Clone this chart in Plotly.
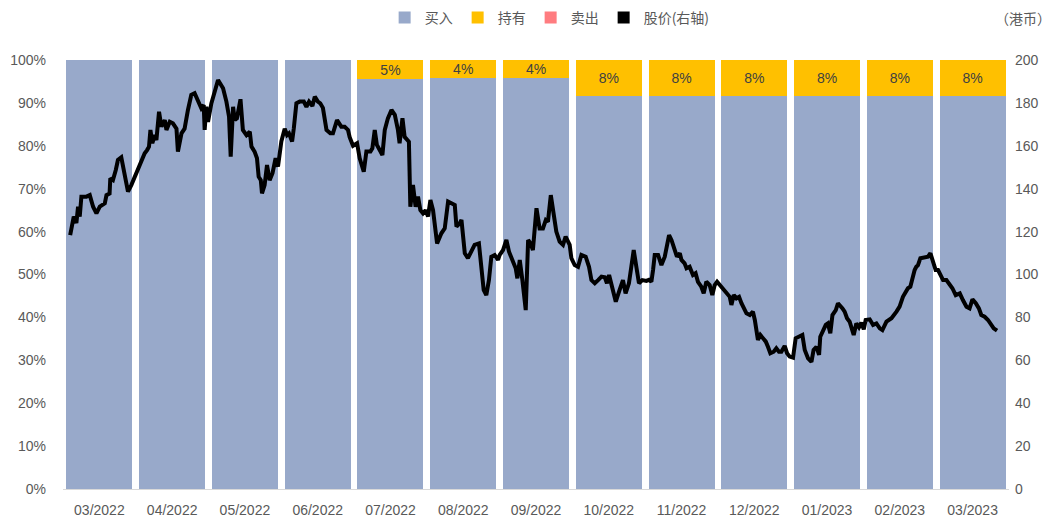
import pandas as pd
import plotly.graph_objects as go

# ---- bar data (rating distribution, %) ----
months = ["03/2022", "04/2022", "05/2022", "06/2022", "07/2022", "08/2022", "09/2022",
          "10/2022", "11/2022", "12/2022", "01/2023", "02/2023", "03/2023"]
buy_pct = [100, 100, 100, 100, 95.5, 95.7, 95.7, 91.7, 91.7, 91.7, 91.7, 91.7, 91.7]
hold_pct = [0, 0, 0, 0, 4.5, 4.3, 4.3, 8.3, 8.3, 8.3, 8.3, 8.3, 8.3]
sell_pct = [0] * 13
hold_labels = ["", "", "", "", "5%", "4%", "4%", "8%", "8%", "8%", "8%", "8%", "8%"]

# ---- share price (HKD), days since 2022-03-01 ----
price_days = [
    3, 4.5, 5.6, 6.3, 7, 7.7, 9.8, 11.2, 12.6, 14,
    15.4, 17.5, 18.2, 19.5, 19.8, 20.9, 22.1, 23, 24.4, 25.1,
    26.5, 27.2, 28.6, 30, 31.4, 32.8, 34.2, 35.2, 36, 36.6,
    37.4, 38.4, 39.1, 40.2, 41.2, 42.6, 43.3, 44.7, 46, 47.5,
    48.1, 49.6, 50.9, 52.3, 53.7, 55.1, 56.5, 57.9, 58.9, 59.3,
    60, 60.7, 62.1, 63.5, 64.9, 67, 68.4, 69.5, 70.2, 71.2,
    71.9, 72.8, 74.3, 75.3, 76.8, 78.2, 78.9, 80.2, 81.2, 81.9,
    82.8, 83.3, 84.4, 85.4, 86.5, 87.7, 89, 90, 91.4, 92.8,
    93.8, 94.6, 95.9, 96.6, 97.7, 99.1, 100.8, 101.9, 103, 104.4,
    105.4, 106.7, 107.7, 108.8, 110.3, 111.9, 113, 114.7, 116.5, 117.9,
    119.3, 120, 121.4, 123.1, 124.2, 125.9, 127, 128.7, 129.5, 130.5,
    131.4, 133.7, 134.7, 136, 137.5, 138.9, 140.2, 140.9, 142.1, 143,
    144, 144.8, 145.4, 146.5, 147.6, 148.6, 149.6, 150.7, 151.8, 152.8,
    153.8, 154.9, 156.6, 158.4, 159.8, 161.2, 162.6, 164, 164.7, 166.1,
    166.8, 168.2, 169.5, 171, 172.3, 174.1, 175.1, 176.1, 177.2, 178.3,
    179.3, 180.7, 182.1, 182.8, 184.2, 185.6, 186.7, 188.1, 189.5, 190.2,
    191.2, 192.3, 193.7, 194.7, 195.7, 196.7, 198.2, 199.5, 200.9, 202.1,
    203, 204.2, 205.4, 206.5, 207.9, 209.3, 210.4, 212.1, 212.8, 214.2,
    215.6, 217, 218.8, 220.2, 221.2, 222.6, 224, 225.4, 226.8, 227.7,
    228.6, 230, 231.4, 233, 234.4, 235.5, 236.9, 237.9, 238.9, 240,
    241.1, 242.5, 244.2, 245.3, 246.3, 247, 247.7, 249.1, 250.5, 251.9,
    252.8, 253.7, 254.7, 256.1, 257, 258.2, 258.9, 260.2, 261, 262.3,
    263.7, 264.8, 265.8, 267.2, 268.2, 269.3, 270.7, 271.8, 272.8, 273.8,
    274.9, 276.3, 278, 279.1, 279.8, 280.8, 281.9, 283, 284, 284.9,
    286.1, 287.5, 288.8, 289.6, 290.3, 290.9, 291.9, 293, 294.2, 295.1,
    296.1, 297.5, 298.6, 299.7, 300.7, 302.1, 303.1, 304.2, 305.6, 306.7,
    308.1, 309.5, 310.5, 311.9, 313.3, 314.2, 315.4, 316.5, 317, 318.1,
    319.3, 320.2, 321.2, 322.1, 323.5, 324.4, 325.1, 326.3, 327.2, 328.2,
    329.3, 330.4, 331, 332.1, 333.2, 334.2, 335.2, 336, 337.7, 339.1,
    340.5, 341.9, 343, 344.7, 346.8, 348.9, 350.2, 351.6, 352.8, 353.7,
    354.7, 355.6, 356.5, 357.2, 357.9, 358.9, 360.7, 362.1, 363.1, 364.2,
    365.3, 366.3, 367.3, 368.4, 369.8, 370.9, 372.3, 373.7, 375.4, 376.7,
    378.2, 379.5, 380.7, 382.1, 383.4, 384.4, 385.8, 387.2, 388.6, 389.6, 391,
]
price_hkd = [
    118.4, 127, 124, 131.6, 127, 136.3, 136.3, 137, 131.6, 128.5,
    131.6, 133.2, 137, 137.8, 144.8, 144, 148.7, 153.4, 154.6, 150.3,
    142.5, 138.6, 141.7, 145.6, 148.7, 152.6, 156.5, 158, 159.6, 167.4,
    161.2, 165, 162.7, 175.9, 168.9, 172, 167.4, 171.2, 170.5, 168,
    157.3, 165.8, 168, 176.7, 183.7, 184.5, 181.3, 177.5, 179, 167.4,
    178.2, 171.2, 179.8, 186, 190.7, 186.8, 180.6, 173.6, 154.9, 178.2,
    172, 172.8, 181.7, 167.4, 165, 166.6, 159.6, 157.3, 154.2, 145.6,
    144, 137.8, 141.7, 151, 144, 147.2, 154.2, 150.3, 162, 168,
    165, 165.8, 162, 168, 179.8, 180.6, 180.6, 178.2, 180.6, 178.6,
    182.9, 180.6, 179.8, 177.7, 167.4, 165.8, 165.8, 172, 168.9, 168.9,
    167.4, 164, 160, 161.2, 154.2, 147.9, 157.3, 157.3, 158.8, 167.4,
    160.4, 155.7, 167.4, 172.8, 176.7, 174.4, 167.4, 161.2, 172.8, 164.2,
    162.7, 161.9, 131.6, 141.7, 131.6, 136.3, 130, 128.5, 130, 127,
    134.7, 130, 114.5, 119.2, 121.5, 134, 133.2, 132.4, 122.3, 123.9,
    125.4, 109.9, 107.6, 110.6, 113.8, 114.5, 105.2, 92.8, 90.4, 97.4,
    108.3, 109.1, 106.8, 109.1, 111.4, 116.1, 110.6, 106.8, 102.9, 98.2,
    106.8, 97.4, 83.4, 116.1, 114.5, 111.4, 130.9, 121.5, 121.5, 125.4,
    124.6, 137, 127, 120, 115.3, 113.8, 117.7, 113.8, 107.6, 104.4,
    103.6, 109.1, 108.3, 103.6, 97.4, 95.9, 97.4, 99, 98.7, 95.9,
    99.8, 94.3, 87.3, 92.8, 97.4, 91.2, 95.9, 103.6, 111.4, 103.6,
    95.9, 97.4, 97, 97.5, 96.6, 102.1, 109.1, 109.1, 104.4, 108.3,
    113.8, 118.4, 116.1, 111.4, 108.3, 109.9, 106.8, 105.2, 102.9, 103.6,
    99.8, 100.6, 96.6, 94.3, 91.2, 96.6, 95.1, 90.4, 95.1, 96.6,
    95.1, 92.8, 91.2, 89.6, 85.8, 90.4, 88.9, 89.6, 86.6, 84.2,
    81.9, 81.1, 82.7, 78.8, 74.1, 69.5, 71.8, 70.3, 68.7, 66.3,
    63.3, 64, 65.6, 64, 64, 66.7, 63.3, 61.7, 61.2, 70.3,
    71, 71.8, 64.8, 60.9, 59.3, 64.8, 66.3, 62.5, 71, 74.1,
    76.5, 77.2, 72.6, 81.1, 83.4, 86.6, 85.8, 84.2, 82.7, 79.6,
    78, 74.1, 71.8, 77.2, 75.4, 77.5, 74.4, 78.8, 79.1, 76.5,
    77.2, 74.9, 74.1, 78, 79.6, 82.7, 85, 89.6, 92, 93.6,
    94.3, 99, 102.1, 103.6, 104.4, 107.6, 108, 108.3, 109.9, 106,
    102.1, 102.1, 99.8, 97.4, 97.4, 95.9, 93.6, 90.4, 91.2, 88.1,
    85, 84.2, 88.4, 86.6, 84.2, 81.1, 80.3, 78.8, 76.5, 74.9, 73.8,
]
assert len(price_days) == len(price_hkd)

price_dates = pd.Timestamp("2022-03-01") + pd.to_timedelta(price_days, unit="D")

BUY_C = "#98A9CA"
HOLD_C = "#FFC000"
SELL_C = "#FF7C80"
TXT_C = "#595959"
FONT = "Liberation Sans"
CJK = "Noto Sans CJK SC"

fig = go.Figure()
fig.add_trace(go.Bar(x=months, y=buy_pct, name="买入", marker=dict(color=BUY_C, line=dict(width=0))))
fig.add_trace(go.Bar(x=months, y=hold_pct, name="持有", marker=dict(color=HOLD_C, line=dict(width=0)),
                     text=hold_labels, textposition="inside", insidetextanchor="middle",
                     constraintext="none", textfont=dict(color="#404040", size=14, family=FONT),
                     textangle=0))
fig.add_trace(go.Bar(x=months, y=sell_pct, name="卖出", marker=dict(color=SELL_C, line=dict(width=0))))
# legend entry for price (square marker like the original)
fig.add_trace(go.Bar(x=[months[0]], y=[0], name="股价(右轴)", marker=dict(color="#000000", line=dict(width=0)),
                     hoverinfo="skip"))
fig.add_trace(go.Scatter(x=price_dates, y=price_hkd, mode="lines", name="股价(右轴)",
                         line=dict(color="#000000", width=4), xaxis="x2", yaxis="y2",
                         showlegend=False))

fig.update_layout(
    width=1057, height=525,
    margin=dict(l=63, r=48, t=60, b=36, autoexpand=False),
    paper_bgcolor="white", plot_bgcolor="white",
    barmode="stack", bargap=0.093,
    font=dict(family=FONT, color=TXT_C, size=14),
    showlegend=True,
    legend=dict(orientation="h", xref="container", yref="container",
                x=0.52, xanchor="center", y=1 - 18 / 525, yanchor="middle",
                font=dict(family=CJK, size=14, color=TXT_C), itemwidth=30,
                traceorder="normal", bgcolor="rgba(0,0,0,0)"),
    xaxis=dict(type="category", showgrid=False, zeroline=False, showline=True,
               linecolor="#D9D9D9", linewidth=1, ticks="", ticklabelstandoff=8,
               automargin=False, tickfont=dict(size=14, color=TXT_C, family=FONT)),
    yaxis=dict(range=[0, 100], dtick=10, ticksuffix="%", showgrid=False, zeroline=False,
               showline=False, ticks="", ticklabelstandoff=16, automargin=False,
               tickfont=dict(size=14, color=TXT_C, family=FONT)),
    xaxis2=dict(type="date", overlaying="x", anchor="y2", visible=False,
                range=["2022-03-01", "2023-04-01"], showgrid=False),
    yaxis2=dict(range=[0, 200], dtick=20, overlaying="y", side="right", anchor="x",
                showgrid=False, zeroline=False, showline=False, ticks="",
                ticklabelstandoff=5, automargin=False,
                tickfont=dict(size=14, color=TXT_C, family=FONT)),
    annotations=[dict(text="（港币）", xref="paper", yref="paper", x=1.046, y=1.098,
                      xanchor="right", yanchor="middle", showarrow=False,
                      font=dict(family=CJK, size=14, color=TXT_C))],
)

fig.write_html("out.html", config={"displayModeBar": False},
               post_script="document.body.style.margin='0';")
